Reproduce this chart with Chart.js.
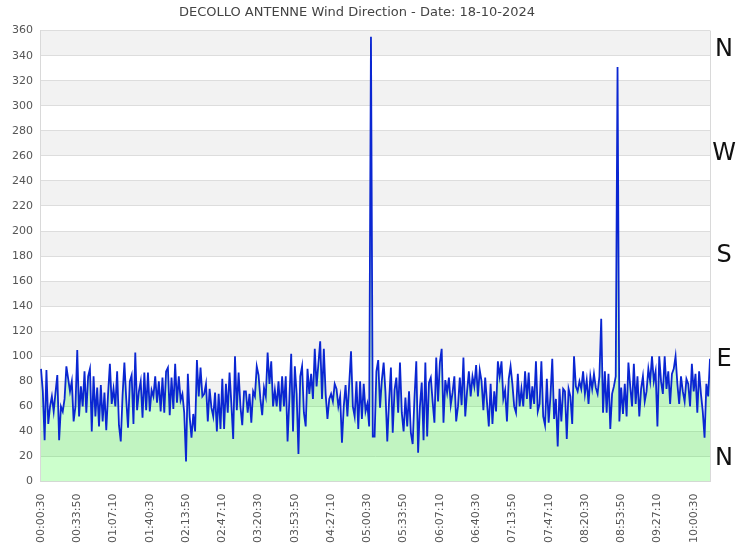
<!DOCTYPE html>
<html lang="it">
<head>
<meta charset="UTF-8">
<title>DECOLLO ANTENNE Wind Direction</title>
<script src="https://cdn.jsdelivr.net/npm/chart.js@4.4.1/dist/chart.umd.min.js"></script>
<style>
  html, body { margin: 0; padding: 0; background: #fff; }
  #wrap { width: 750px; height: 550px; }
</style>
</head>
<body>
<div id="wrap"><canvas id="windChart"></canvas></div>
<script>
// --- data ---
const chartTitle = 'DECOLLO ANTENNE Wind Direction - Date: 18-10-2024';
const startSeconds = 30;     // first sample 00:00:30
const stepSeconds = 100;     // one sample every 100 s
const labelEvery = 20;       // a time label every 20 samples (33:20)

// wind direction in degrees
const direction = [
  90,72,33,89,46,60,68,56,71,85,
  33,60,56,66,92,82,72,80,48,60,105,
  52,76,60,88,55,84,90,40,
  84,52,75,44,77,48,71,41,70,94,
  62,74,60,88,45,32,69,95,
  66,43,80,85,46,103,
  57,72,80,51,87,57,87,56,73,
  68,84,63,80,56,83,55,88,91,53,83,58,94,63,84,65,70,55,
  16,
  86,52,35,54,40,97,68,
  91,
  68,70,78,48,74,59,52,71,40,70,42,82,42,78,55,87,62,
  34,100,
  57,87,60,45,72,72,55,70,47,72,68,92,85,66,53,75,
  68,103,78,96,60,73,60,80,56,84,60,84,32,66,102,40,92,70,
  22,
  84,92,55,44,90,70,86,66,106,76,94,
  112,
  66,106,70,50,66,70,64,78,74,60,68,
  31,
  60,77,52,78,
  104,
  60,52,80,42,80,50,78,56,62,44,
  355,
  36,36,88,
  97,59,81,95,71,
  32,
  65,91,39,73,83,55,95,55,40,67,44,72,39,30,67,96,
  23,
  60,79,33,95,36,79,83,64,47,99,64,95,
  106,
  47,81,71,83,61,71,84,48,60,83,61,99,52,72,88,68,84,76,93,68,89,80,57,83,63,
  44,78,46,72,56,96,84,96,66,73,48,82,92,78,60,55,86,60,74,60,88,66,87,58,76,
  62,96,56,62,96,52,45,82,47,68,98,50,66,28,
  74,48,74,72,34,74,68,46,
  100,
  76,72,80,74,88,70,81,62,84,74,86,75,70,84,
  130,
  55,88,55,86,42,70,76,84,
  331,
  48,75,54,78,52,95,76,60,94,62,84,52,74,84,64,72,90,80,100,80,
  88,44,100,80,70,100,74,88,62,86,90,100,78,62,84,72,64,82,78,60,
  94,72,86,55,88,70,56,
  35,
  78,68,98
];

const yMin = 0;
const yMax = 360;
const yStep = 20;

// compass letters on the right and the degree they sit at
const compassLabels = ['N', 'W', 'S', 'E', 'N'];
const compassValues = [345, 262, 180, 97, 18];

function pad(n) { return String(n).padStart(2, '0'); }
function timeLabel(sec) {
  const h = Math.floor(sec / 3600), m = Math.floor(sec % 3600 / 60), s = sec % 60;
  return pad(h) + ':' + pad(m) + ':' + pad(s);
}
const timeLabels = direction.map((_, i) => timeLabel(startSeconds + i * stepSeconds));

// grey bands every other 20 deg, box line on the right, compass letters
const bandsPlugin = {
  id: 'bands',
  beforeDraw(chart) {
    const { ctx, chartArea: a, scales: { y } } = chart;
    ctx.save();
    ctx.fillStyle = '#ffffff';
    ctx.fillRect(0, 0, chart.width, chart.height);
    ctx.fillStyle = '#f2f2f2';
    for (let v = yMin + yStep; v < yMax; v += yStep * 2) {
      const top = y.getPixelForValue(v + yStep);
      const bot = y.getPixelForValue(v);
      ctx.fillRect(a.left, top, a.right - a.left, bot - top);
    }
    ctx.restore();
  },
  afterDraw(chart) {
    const { ctx, chartArea: a, scales: { y } } = chart;
    ctx.save();
    ctx.strokeStyle = '#d9d9d9';
    ctx.lineWidth = 1;
    ctx.beginPath();
    ctx.moveTo(a.right + 0.5, a.top);
    ctx.lineTo(a.right + 0.5, a.bottom);
    ctx.stroke();
    ctx.fillStyle = '#111';
    ctx.font = '24px "DejaVu Sans"';
    ctx.textAlign = 'center';
    ctx.textBaseline = 'middle';
    compassLabels.forEach((t, i) => {
      ctx.fillText(t, a.right + 14, y.getPixelForValue(compassValues[i]));
    });
    ctx.restore();
  }
};

Chart.defaults.font.family = '"DejaVu Sans", Verdana, sans-serif';
Chart.defaults.color = '#555';

new Chart(document.getElementById('windChart'), {
  type: 'line',
  data: {
    labels: timeLabels,
    datasets: [{
      label: 'Wind Direction',
      data: direction,
      borderColor: '#0a26d2',
      borderWidth: 1.8,
      backgroundColor: 'rgba(0, 255, 0, 0.2)',
      fill: 'origin',
      pointRadius: 0,
      tension: 0
    }]
  },
  options: {
    responsive: true,
    maintainAspectRatio: false,
    animation: false,
    layout: { padding: { left: 4, right: 40, top: 0, bottom: 3 } },
    plugins: {
      legend: { display: false },
      tooltip: { enabled: false },
      title: {
        display: true,
        text: chartTitle,
        color: '#444',
        font: { size: 13, weight: 'normal' },
        padding: { top: 5, bottom: 10 }
      }
    },
    scales: {
      x: {
        grid: { display: false },
        border: { display: true, color: '#d9d9d9' },
        ticks: {
          autoSkip: false,
          minRotation: 90,
          maxRotation: 90,
          font: { size: 11 },
          padding: 4,
          callback: function (val, idx) {
            return idx % labelEvery === 0 ? this.getLabelForValue(val) : null;
          }
        }
      },
      y: {
        min: yMin,
        max: yMax,
        grid: { color: '#dddddd', drawTicks: false },
        border: { display: true, color: '#d9d9d9' },
        ticks: { stepSize: yStep, font: { size: 11 }, padding: 8 }
      }
    }
  },
  plugins: [bandsPlugin]
});
</script>
</body>
</html>
